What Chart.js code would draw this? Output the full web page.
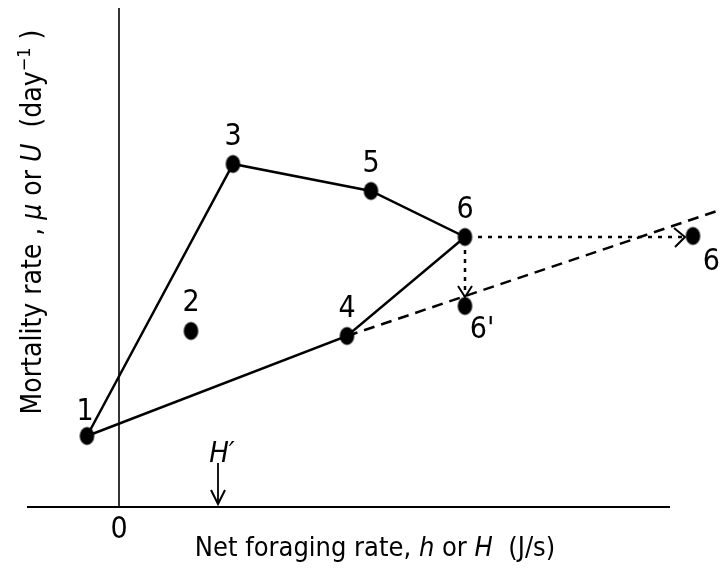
<!DOCTYPE html>
<html>
<head>
<meta charset="utf-8">
<script src="https://cdn.jsdelivr.net/npm/chart.js@4/dist/chart.umd.min.js"></script>
<style>
  html, body { margin: 0; padding: 0; background: #fff; }
  #wrap { width: 721px; height: 573px; }
</style>
</head>
<body>
<div id="wrap"><canvas id="c" width="721" height="573"></canvas></div>
<script>
// Foraging options: net foraging rate (J/s) vs mortality rate (day^-1)
const optionLabels = ['1', '2', '3', '4', '5', '6', "6'", "6'"];
const netForaging  = [-0.32, 0.72, 1.14, 2.28, 2.52, 3.46, 3.46, 5.74];
const mortality    = [0.71, 1.76, 3.43, 1.71, 3.16, 2.70, 2.01, 2.71];

// Options joined into the outer boundary (by index into the arrays above)
const hullOrder = [0, 2, 4, 5, 3, 0];
// Extension of the line from option 4 through the shifted options
const tangentEnd = { x: 6.01, y: 2.97 };
// Marked rate on the foraging axis
const hPrime = 0.99;

// Axis extents
const xAxisExtent = [-0.92, 5.51];
const yAxisTop = 4.99;

const pt = i => ({ x: netForaging[i], y: mortality[i] });

// slightly tall ink dot used for every option
const dot = document.createElement('canvas');
dot.width = 17; dot.height = 21;
{
  const d = dot.getContext('2d');
  d.fillStyle = '#000';
  d.beginPath();
  d.ellipse(8.5, 10.5, 7.3, 9.0, 0, 0, Math.PI * 2);
  d.fill();
}

const datasets = [
  { // horizontal axis
    data: [{ x: xAxisExtent[0], y: 0 }, { x: xAxisExtent[1], y: 0 }],
    showLine: true, borderColor: '#000', borderWidth: 2.2, pointRadius: 0
  },
  { // vertical axis at zero
    data: [{ x: 0, y: 0 }, { x: 0, y: yAxisTop }],
    showLine: true, borderColor: '#000', borderWidth: 1.6, pointRadius: 0
  },
  { // boundary of options
    data: hullOrder.map(pt),
    showLine: true, borderColor: '#000', borderWidth: 2.5, pointRadius: 0
  },
  { // dashed extension from option 4
    data: [pt(3), tangentEnd],
    showLine: true, borderColor: '#000', borderWidth: 2.5, borderDash: [11, 7], pointRadius: 0
  },
  { // dotted shift to the right
    data: [{ x: netForaging[5] + 0.13, y: mortality[5] }, { x: 5.66, y: mortality[5] }],
    showLine: true, borderColor: '#000', borderWidth: 2.5, borderDash: [4, 6], pointRadius: 0
  },
  { // dotted shift downward
    data: [{ x: netForaging[5], y: mortality[5] - 0.13 }, { x: netForaging[5], y: 2.10 }],
    showLine: true, borderColor: '#000', borderWidth: 2.5, borderDash: [4, 5], pointRadius: 0
  },
  { // H' arrow shaft
    data: [{ x: hPrime, y: 0.44 }, { x: hPrime, y: 0.03 }],
    showLine: true, borderColor: '#000', borderWidth: 1.8, pointRadius: 0
  },
  { // options
    data: optionLabels.map((_, i) => pt(i)),
    showLine: false, pointStyle: dot, pointRadius: 9
  }
];

const FONT = "'Liberation Sans Narrow', 'DejaVu Sans Condensed', sans-serif";

function drawRuns(ctx, runs, x, y, align) {
  // runs: [text, size, italic, dy]
  let total = 0;
  runs.forEach(r => { ctx.font = (r[2] ? 'italic ' : '') + r[1] + 'px ' + FONT; total += ctx.measureText(r[0]).width; });
  let cx = align === 'center' ? x - total / 2 : x;
  ctx.textAlign = 'left';
  runs.forEach(r => {
    ctx.font = (r[2] ? 'italic ' : '') + r[1] + 'px ' + FONT;
    ctx.fillText(r[0], cx, y + (r[3] || 0));
    cx += ctx.measureText(r[0]).width;
  });
}

const annotations = {
  id: 'annotations',
  afterDatasetsDraw(chart) {
    const { ctx, scales: { x, y } } = chart;
    const px = v => x.getPixelForValue(v), py = v => y.getPixelForValue(v);
    ctx.save();
    ctx.fillStyle = '#000';
    ctx.strokeStyle = '#000';
    ctx.textBaseline = 'alphabetic';

    // option labels
    const off = [[-2, -16], [0, -20], [0, -19], [0, -19], [0, -19], [0, -19], [17, 32], [22, 34]];
    ctx.textAlign = 'center';
    optionLabels.forEach((lab, i) => {
      ctx.font = '30px ' + FONT;
      ctx.fillText(lab, px(netForaging[i]) + off[i][0], py(mortality[i]) + off[i][1]);
    });

    // arrowheads
    ctx.lineWidth = 2;
    const head = (tx, ty, ax1, ay1, ax2, ay2) => {
      ctx.beginPath();
      ctx.moveTo(ax1, ay1); ctx.lineTo(tx, ty); ctx.lineTo(ax2, ay2);
      ctx.stroke();
    };
    let tx = px(5.66), ty = py(mortality[5]);
    head(tx, ty, tx - 11, ty - 9, tx - 10, ty + 10);
    tx = px(netForaging[5]); ty = py(2.10);
    head(tx, ty, tx - 7, ty - 11, tx + 7, ty - 11);
    tx = px(hPrime); ty = py(0.03);
    head(tx, ty, tx - 7, ty - 14, tx + 7, ty - 14);

    // H' label
    ctx.textAlign = 'center';
    ctx.font = 'italic 29px ' + FONT;
    ctx.fillText("H\u2032", px(hPrime) + 4, py(0.45));

    // zero tick label
    ctx.font = '30px ' + FONT;
    ctx.fillText('0', px(0), py(-0.31));

    // x-axis title
    drawRuns(ctx, [
      ['Net foraging rate, ', 27, false],
      ['h', 27, true],
      [' or ', 27, false],
      ['H', 27, true],
      ['  (J/s)', 27, false]
    ], 375, 556, 'center');

    // y-axis title
    ctx.save();
    ctx.translate(41, 222);
    ctx.rotate(-Math.PI / 2);
    drawRuns(ctx, [
      ['Mortality rate , ', 28, false],
      ['\u03bc', 28, true],
      [' or ', 28, false],
      ['U', 28, true],
      ['  (day', 28, false],
      ['\u22121', 18, false, -11],
      [' )', 28, false]
    ], 0, 0, 'center');
    ctx.restore();

    ctx.restore();
  }
};

new Chart(document.getElementById('c'), {
  type: 'scatter',
  data: { datasets },
  options: {
    responsive: false,
    animation: false,
    layout: { padding: 0, autoPadding: false },
    plugins: { legend: { display: false }, tooltip: { enabled: false } },
    scales: {
      x: { type: 'linear', display: false, min: -1.19, max: 6.02 },
      y: { type: 'linear', display: false, min: -0.66, max: 5.07 }
    }
  },
  plugins: [annotations]
});
</script>
</body>
</html>
